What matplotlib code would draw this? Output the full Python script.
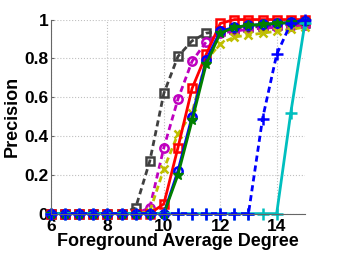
import numpy as np
import matplotlib
matplotlib.use("Agg")
import matplotlib.pyplot as plt

# foreground average degree, 6:0.5:15
degree = np.arange(6, 15.01, 0.5)

# precision curves
prec_gray = [0, 0, 0, 0, 0, 0, 0.03, 0.27, 0.62, 0.81, 0.89, 0.93, 0.94, 0.95, 0.96, 0.965, 0.97, 0.975, 0.98]
prec_magenta = [0, 0, 0, 0, 0, 0, 0, 0.03, 0.34, 0.59, 0.785, 0.885, 0.93, 0.94, 0.95, 0.955, 0.96, 0.965, 0.97]
prec_yellow = [0, 0, 0, 0, 0, 0, 0, 0.01, 0.23, 0.41, 0.52, 0.79, 0.875, 0.91, 0.92, 0.93, 0.94, 0.95, 0.96]
prec_red = [0, 0, 0, 0, 0, 0, 0, 0, 0.05, 0.34, 0.645, 0.82, 0.98, 1.0, 1.0, 1.0, 1.0, 1.0, 1.0]
prec_blue = [0, 0, 0, 0, 0, 0, 0, 0, 0, 0.22, 0.50, 0.79, 0.94, 0.96, 0.97, 0.975, 0.98, 0.985, 0.99]
prec_green = [0, 0, 0, 0, 0, 0, 0, 0, 0, 0.20, 0.48, 0.77, 0.93, 0.96, 0.97, 0.975, 0.98, 0.985, 0.99]
prec_bluedash = [0, 0, 0, 0, 0, 0, 0, 0, 0, 0, 0, 0, 0, 0, 0, 0.49, 0.82, 0.98, 1.0]
prec_cyan = [0, 0, 0, 0, 0, 0, 0, 0, 0, 0, 0, 0, 0, 0, 0, 0, 0, 0.52, 0.98]

xticks = [6, 8, 10, 12, 14]
yticks = [0, 0.2, 0.4, 0.6, 0.8, 1]
ytick_labels = ["0", "0.2", "0.4", "0.6", "0.8", "1"]

plt.rcParams['font.family'] = ['Liberation Sans', 'DejaVu Sans']

fig = plt.figure(figsize=(3.38, 2.54), dpi=100)
ax = fig.add_axes([0.151, 0.159, 0.751, 0.764])

lw = 2.0
ms = 6
mew = 1.8
dash = (2.2, 1.4)
ax.plot(degree, prec_gray, '--s', color='#404040', lw=lw, ms=ms, mew=mew, mfc='none', dashes=dash, clip_on=False)
ax.plot(degree, prec_magenta, '--o', color='#BF00BF', lw=lw, ms=ms, mew=mew, mfc='none', dashes=dash, clip_on=False)
ax.plot(degree, prec_yellow, '--x', color='#BFBF00', lw=lw, ms=ms, mew=mew, dashes=dash, clip_on=False)
ax.plot(degree, prec_red, '-s', color='#FF0000', lw=lw, ms=ms, mew=mew, mfc='none', clip_on=False)
ax.plot(degree, prec_blue, '-o', color='#0000FF', lw=lw, ms=ms, mew=mew, mfc='none', clip_on=False)
ax.plot(degree, prec_green, '-*', color='#007F00', lw=lw, ms=7, mew=1.0, clip_on=False)
ax.plot(degree, prec_cyan, '-+', color='#00BFBF', lw=lw, ms=8, mew=mew, clip_on=False)
ax.plot(degree, prec_bluedash, '--+', color='#0000FF', lw=lw, ms=8, mew=mew, dashes=dash, clip_on=False)

ax.set_xlim(6, 15)
ax.set_ylim(0, 1)
ax.set_xticks(xticks)
ax.set_yticks(yticks)
ax.set_yticklabels(ytick_labels)
ax.grid(True, linestyle=':', color='#c0c0c0', lw=0.8)
ax.set_axisbelow(True)

for s in ['top', 'right']:
    ax.spines[s].set_visible(False)
for s in ['left', 'bottom']:
    ax.spines[s].set_color('#666666')
    ax.spines[s].set_linewidth(0.8)

ax.tick_params(direction='in', length=2, labelsize=12.5, pad=2, colors='#666666', labelcolor='black')
ax.tick_params(axis='x', pad=4)
for lab in ax.get_xticklabels() + ax.get_yticklabels():
    lab.set_fontweight('bold')

ax.set_xlabel('Foreground Average Degree', fontsize=13, fontweight='bold', labelpad=-1)
ax.set_ylabel('Precision', fontsize=13, fontweight='bold', labelpad=2)

fig.savefig('out.png', dpi=100)
